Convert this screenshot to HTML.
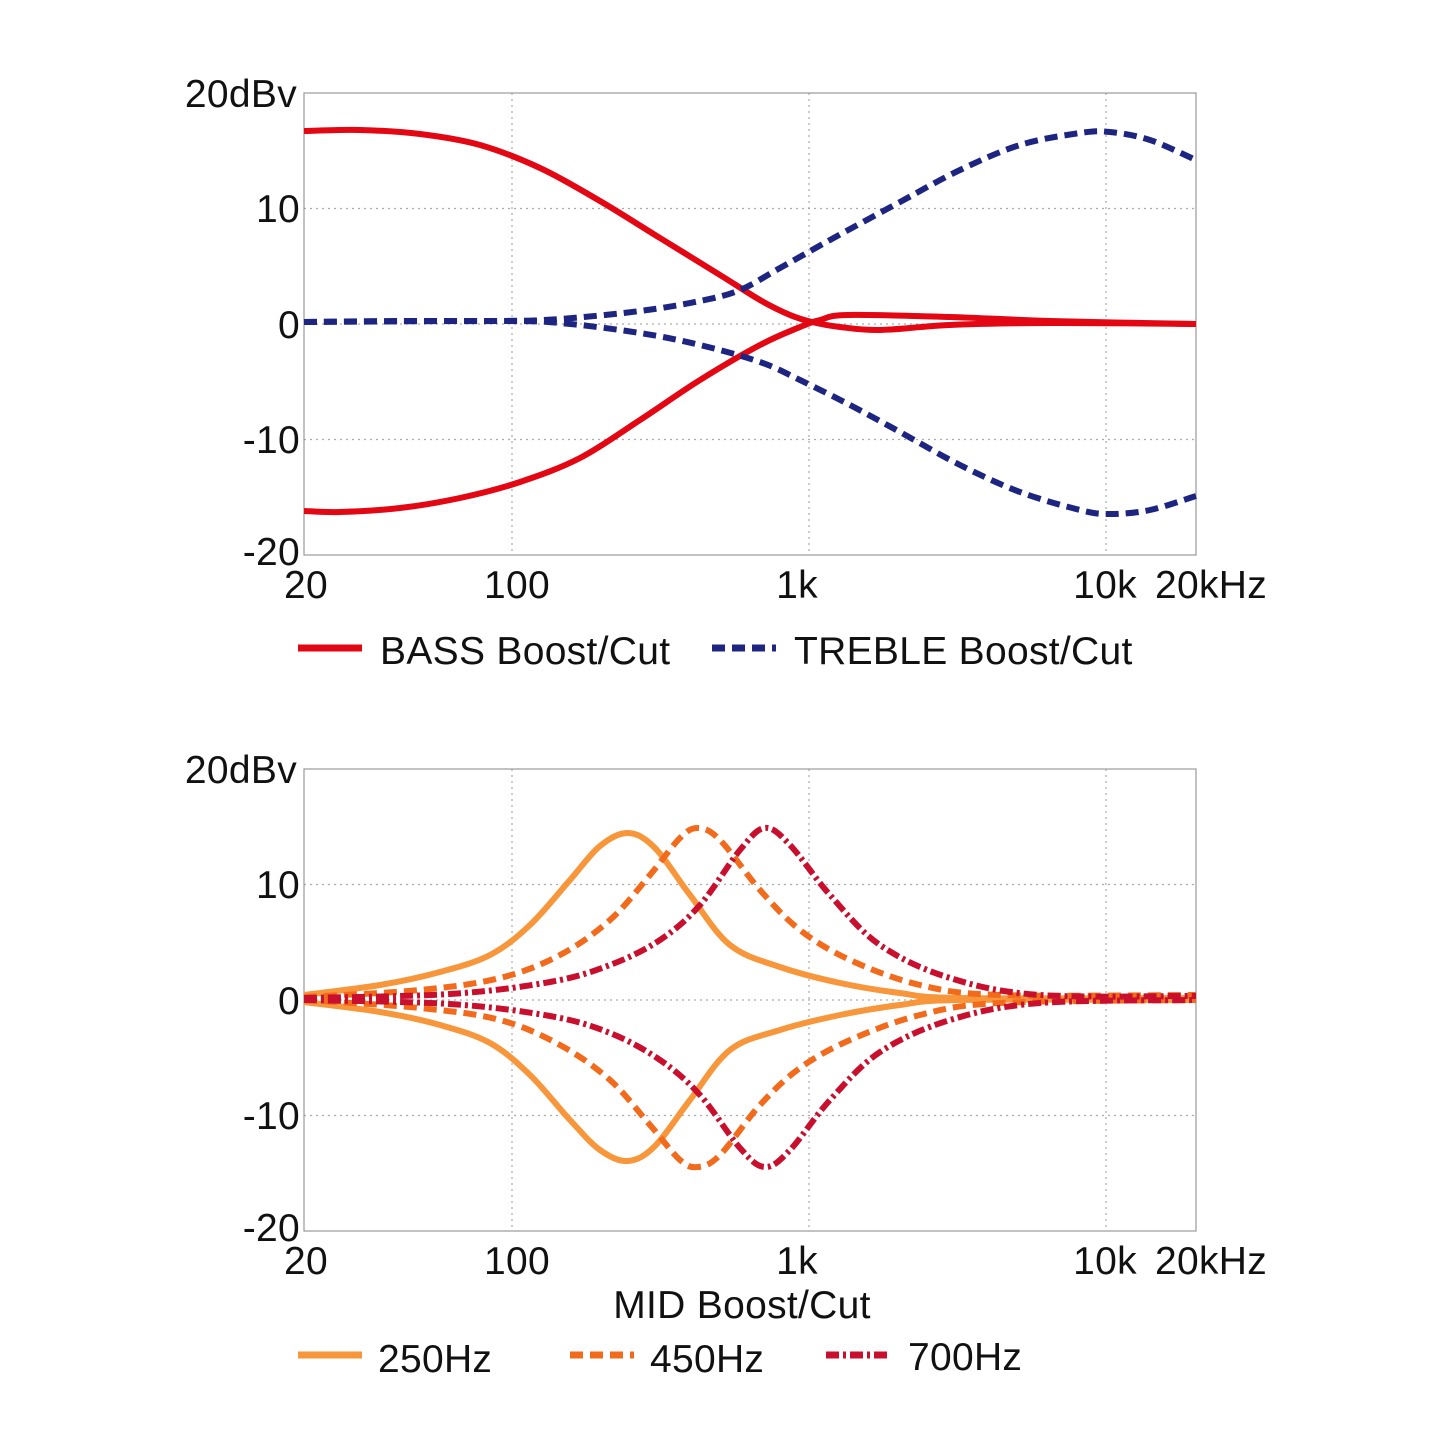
<!DOCTYPE html>
<html><head><meta charset="utf-8"><style>
html,body{margin:0;padding:0;background:#fff}
svg{display:block}
text{font-family:"Liberation Sans",sans-serif;fill:#111;font-size:39px;letter-spacing:0.3px}
</style></head><body>
<svg id="s" width="1445" height="1445" viewBox="0 0 1445 1445">
<g fill="none" stroke="#aaa" stroke-width="1.2" stroke-dasharray="2 4">
<line x1="512" y1="93" x2="512" y2="555"/><line x1="809" y1="93" x2="809" y2="555"/><line x1="1106" y1="93" x2="1106" y2="555"/>
<line x1="304" y1="208.5" x2="1196" y2="208.5"/><line x1="304" y1="324" x2="1196" y2="324"/><line x1="304" y1="439.5" x2="1196" y2="439.5"/>
<line x1="512" y1="769" x2="512" y2="1231"/><line x1="809" y1="769" x2="809" y2="1231"/><line x1="1106" y1="769" x2="1106" y2="1231"/>
<line x1="304" y1="884.5" x2="1196" y2="884.5"/><line x1="304" y1="1000" x2="1196" y2="1000"/><line x1="304" y1="1115.5" x2="1196" y2="1115.5"/>
</g>
<rect x="304" y="93" width="892" height="462" fill="none" stroke="#999" stroke-width="1.2"/>
<rect x="304" y="769" width="892" height="462" fill="none" stroke="#999" stroke-width="1.2"/>
<g text-anchor="end">
<text x="297" y="107">20dBv</text><text x="300" y="222">10</text><text x="300" y="338">0</text><text x="300" y="453">-10</text><text x="300" y="565">-20</text>
<text x="297" y="783">20dBv</text><text x="300" y="898">10</text><text x="300" y="1014">0</text><text x="300" y="1129">-10</text><text x="300" y="1241">-20</text>
</g>
<g text-anchor="middle">
<text x="306" y="598">20</text><text x="517" y="598">100</text><text x="797" y="598">1k</text><text x="1105" y="598">10k</text><text x="1211" y="598">20kHz</text>
<text x="306" y="1274">20</text><text x="517" y="1274">100</text><text x="797" y="1274">1k</text><text x="1105" y="1274">10k</text><text x="1211" y="1274">20kHz</text>
<text x="742" y="1318">MID Boost/Cut</text>
</g>
<g fill="none" stroke-width="6" stroke-linejoin="round" stroke-linecap="butt">
<polyline class="c" stroke="#e30613" points="304,131 360,130 420,134 480,145 540,168 600,201 660,238 720,275 760,300 790,315 812,322 840,327 880,330 950,325 1050,323 1196,324"/>
<polyline class="c" stroke="#e30613" points="304,511 340,512 400,508 460,498 520,482 580,458 640,420 700,380 760,345 800,327 820,320 848,315 950,317 1050,321 1196,324"/>
<polyline class="c" stroke="#1d2580" stroke-dasharray="13 7" points="304,322 400,321 500,321 560,319 640,311 700,301 740,290 780,268 830,240 900,202 960,170 1020,145 1080,133 1110,132 1150,140 1196,160"/>
<polyline class="c" stroke="#1d2580" stroke-dasharray="13 7" points="304,322 500,321 560,323 640,333 700,345 760,362 800,380 850,405 900,432 960,465 1020,492 1080,510 1110,514 1150,510 1196,496"/>
<polyline class="c" stroke="#f7963a" points="304,995 380,985 440,972 490,955 530,925 570,880 600,846 628,833 655,848 690,895 730,945 780,967 840,983 900,993 960,998 1196,998"/>
<polyline class="c" stroke="#f7963a" points="304,1002 380,1012 440,1025 490,1043 530,1075 570,1120 600,1150 628,1161 655,1146 690,1100 730,1050 780,1030 840,1015 900,1005 960,1000 1196,1000"/>
<polyline class="c" stroke="#f26b1d" stroke-dasharray="13 7" points="304,997 420,990 500,978 560,955 610,920 650,875 680,838 698,828 720,840 760,890 800,930 850,960 920,985 1000,995 1196,995"/>
<polyline class="c" stroke="#f26b1d" stroke-dasharray="13 7" points="304,1000 420,1008 500,1020 560,1045 610,1080 650,1125 680,1160 698,1167 720,1155 760,1105 800,1068 850,1040 920,1015 1000,1003 1196,1000"/>
<polyline class="c" stroke="#c8102e" stroke-dasharray="13 4 3 4" points="304,998 450,994 550,982 610,965 660,940 700,905 740,850 765,828 790,845 830,895 880,945 950,978 1040,995 1196,996"/>
<polyline class="c" stroke="#c8102e" stroke-dasharray="13 4 3 4" points="304,1000 450,1004 550,1016 610,1033 660,1060 700,1095 740,1148 765,1167 790,1150 830,1100 880,1052 950,1020 1040,1003 1196,1000"/>
<line x1="298" y1="648" x2="362" y2="648" stroke="#e30613" stroke-width="7"/>
<line x1="712" y1="648" x2="776" y2="648" stroke="#1d2580" stroke-width="7" stroke-dasharray="13 7"/>
<line x1="298" y1="1355" x2="362" y2="1355" stroke="#f7963a" stroke-width="7"/>
<line x1="570" y1="1355" x2="634" y2="1355" stroke="#f26b1d" stroke-width="7" stroke-dasharray="13 7"/>
<line x1="826" y1="1355" x2="890" y2="1355" stroke="#c8102e" stroke-width="7" stroke-dasharray="13 4 3 4"/>
</g>
<text x="380" y="664">BASS Boost/Cut</text>
<text x="794" y="664">TREBLE Boost/Cut</text>
<text x="378" y="1372">250Hz</text>
<text x="650" y="1372">450Hz</text>
<text x="908" y="1370">700Hz</text>
</svg>
<script>
document.querySelectorAll('polyline.c').forEach(function(pl){
 var p=pl.getAttribute('points').trim().split(/\s+/).map(function(s){return s.split(',').map(Number);});
 var d='M'+p[0][0]+','+p[0][1];
 for(var i=0;i<p.length-1;i++){
  var p0=p[i-1]||p[i],p1=p[i],p2=p[i+1],p3=p[i+2]||p2;
  var c1x=p1[0]+(p2[0]-p0[0])/6,c1y=p1[1]+(p2[1]-p0[1])/6;
  var c2x=p2[0]-(p3[0]-p1[0])/6,c2y=p2[1]-(p3[1]-p1[1])/6;
  d+=' C'+c1x.toFixed(1)+','+c1y.toFixed(1)+' '+c2x.toFixed(1)+','+c2y.toFixed(1)+' '+p2[0]+','+p2[1];
 }
 var path=document.createElementNS('http://www.w3.org/2000/svg','path');
 ['stroke','stroke-dasharray'].forEach(function(a){var v=pl.getAttribute(a);if(v)path.setAttribute(a,v);});
 path.setAttribute('d',d);
 pl.parentNode.replaceChild(path,pl);
});
</script>
</body></html>
